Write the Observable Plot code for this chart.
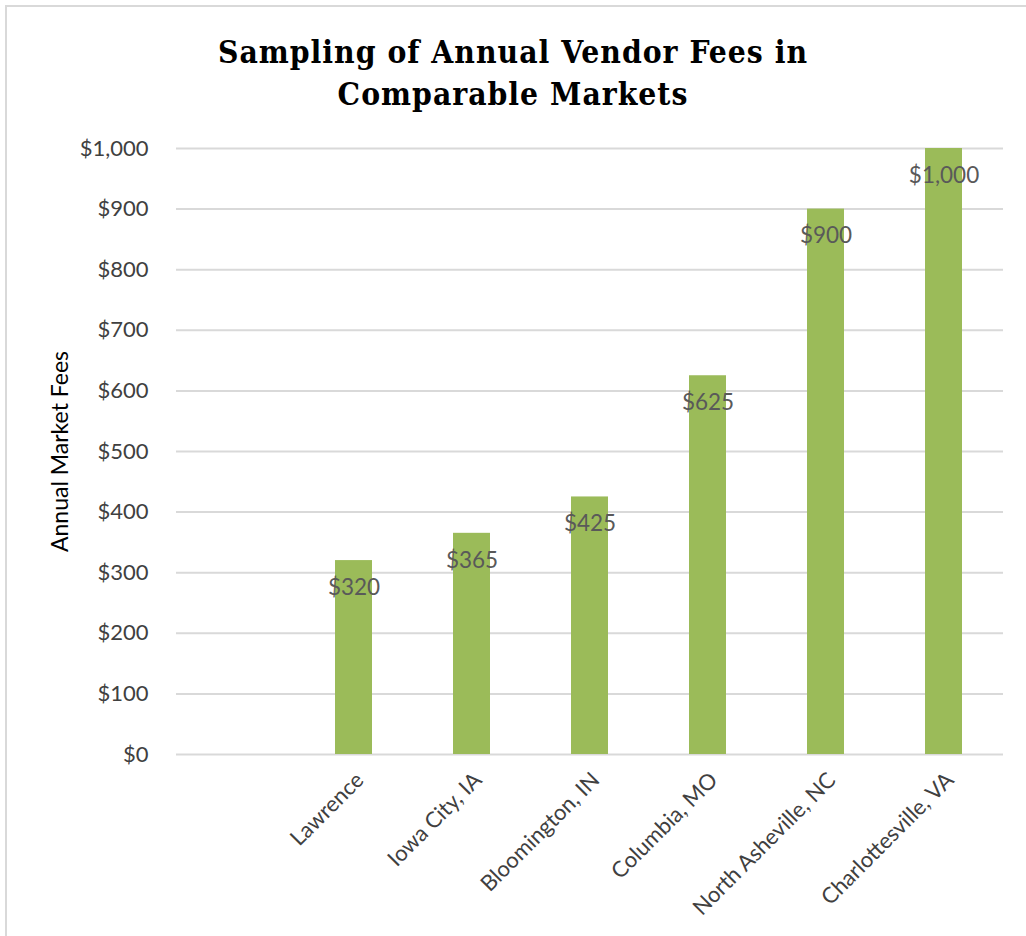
<!DOCTYPE html>
<html><head><meta charset="utf-8">
<script src="https://cdn.jsdelivr.net/npm/d3@7"></script>
<script src="https://cdn.jsdelivr.net/npm/@observablehq/plot@0.6"></script>
<style>
body{margin:0;background:#fff;width:1026px;height:936px;overflow:hidden;position:relative;}
#frame{position:absolute;left:5px;top:5px;width:1060px;height:960px;border:2px solid #d9d9d9;box-sizing:border-box;}
#title{position:absolute;left:0;top:31px;width:1026px;text-align:center;font-family:"DejaVu Serif Condensed","DejaVu Serif",serif;font-weight:bold;font-size:31.5px;letter-spacing:1px;line-height:42px;color:#000;}
#chart{position:absolute;left:0;top:120px;}
</style></head><body>
<div id="frame"></div>
<div id="title">Sampling of Annual Vendor Fees in<br>Comparable Markets</div>
<div id="chart"></div>
<script>
const markets = ["", "Lawrence", "Iowa City, IA", "Bloomington, IN", "Columbia, MO", "North Asheville, NC", "Charlottesville, VA"];
const fees = [null, 320, 365, 425, 625, 900, 1000];
const yTicks = [0, 100, 200, 300, 400, 500, 600, 700, 800, 900, 1000];
const yLabel = "Annual Market Fees";

const data = markets.map((m, i) => ({market: m, fee: fees[i]})).filter(d => d.fee != null);
const fmt = d => "$" + d3.format(",")(d);
const font = "Lato, 'Open Sans', sans-serif";

const plot = Plot.plot({
  width: 1026, height: 816,
  marginLeft: 176, marginRight: 23, marginTop: 28, marginBottom: 182,
  style: {fontFamily: font, fontSize: "22px", color: "#404040", background: "transparent"},
  x: {domain: markets, paddingInner: 0.69, paddingOuter: 0.345, label: null},
  y: {domain: [0, 1000], label: null},
  marks: [
    Plot.gridY(yTicks, {stroke: "#d9d9d9", strokeOpacity: 1, strokeWidth: 2}),
    Plot.barY(data, {x: "market", y: "fee", fill: "#9bbb59"}),
    Plot.text(data, {x: "market", y: "fee", text: d => fmt(d.fee), dy: 27, fill: "#595959", fontSize: 22.5}),
    Plot.axisY(yTicks, {tickFormat: fmt, tickSize: 0, tickPadding: 28, fontSize: 22, fill: "#404040", label: null}),
    Plot.axisX({tickSize: 0, tickRotate: -45, tickPadding: 14, fontSize: 22, fill: "#404040", label: null, dx: 6, dy: 8}),
    Plot.text([yLabel], {frameAnchor: "left", textAnchor: "middle", text: d => d, rotate: -90, dx: -116, fontSize: 23, fill: "#000"})
  ]
});
document.getElementById("chart").appendChild(plot);
</script>
</body></html>
